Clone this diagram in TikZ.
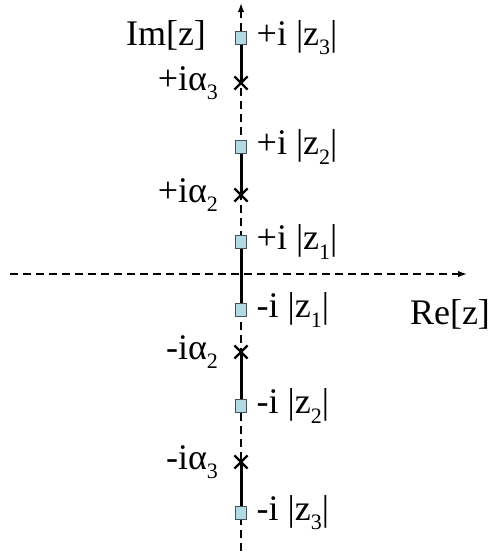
\documentclass[tikz,border=0pt]{standalone}
\usepackage{fontspec}
\setmainfont{Liberation Serif}
\usetikzlibrary{arrows.meta,positioning,shapes.misc}
\definecolor{PoleBlue}{RGB}{178,218,228}
\definecolor{PoleEdge}{RGB}{70,80,90}
\newcommand{\lowsub}[1]{\raisebox{-.55ex}{\fontsize{11}{11}\selectfont #1}}

\begin{document}
\begin{tikzpicture}[x=.5pt,y=-.5pt,>={Latex[length=4.5pt,width=3.2pt]},
  axisline/.style={dash pattern=on 4pt off 2.5pt,line width=.7pt},
  cutline/.style={line width=1.5pt},
  pole/.style={draw=PoleEdge,fill=PoleBlue,line width=.5pt,minimum width=5.8pt,minimum height=6.5pt,inner sep=0pt},
  crossmark/.style={cross out,draw,line width=1.1pt,minimum size=5.5pt,inner sep=0pt},
  lbl/.style={inner sep=0pt,font=\fontsize{18}{20}\selectfont}]
\useasboundingbox (0,0) rectangle (490,553);
% axes
\coordinate (xl) at (10,274);\coordinate (xr) at (467,274);
\coordinate (yb) at (241,551);\coordinate (yt) at (241,3);
\draw[axisline,->] (xl)--(xr);\draw[axisline,->] (yb)--(yt);
% branch points and zeros on the imaginary axis
\foreach \n/\y in {z3p/38,z2p/147,z1p/242,z1m/310,z2m/406,z3m/513}{\node[pole] (\n) at (241,\y){};}
\foreach \n/\y in {a3p/83,a2p/195,a2m/352,a3m/462}{\node[crossmark] (\n) at (241,\y){};}
% cuts
\draw[cutline] (z3p.south)--(a3p.center);\draw[cutline] (z2p.south)--(a2p.center);
\draw[cutline] (z1p.south)--(z1m.north);
\draw[cutline] (a2m.center)--(z2m.north);\draw[cutline] (a3m.center)--(z3m.north);
% labels
\node[lbl,right=4.5pt of z3p] (lz3p) {+i |z\lowsub{3}|};
\node[lbl,right=4.5pt of z2p] (lz2p) {+i |z\lowsub{2}|};
\node[lbl,right=4.5pt of z1p] (lz1p) {+i |z\lowsub{1}|};
\node[lbl,right=4.5pt of z1m] (lz1m) {-i |z\lowsub{1}|};
\node[lbl,right=4.5pt of z2m] (lz2m) {-i |z\lowsub{2}|};
\node[lbl,right=4.5pt of z3m] (lz3m) {-i |z\lowsub{3}|};
\node[lbl,left=8pt of a3p] (la3p) {+iα\lowsub{3}};
\node[lbl,left=8pt of a2p] (la2p) {+iα\lowsub{2}};
\node[lbl,left=8pt of a2m] (la2m) {-iα\lowsub{2}};
\node[lbl,left=8pt of a3m] (la3m) {-iα\lowsub{3}};
\node[lbl] (imz) at (166,35) {Im[z]};\node[lbl] (rez) at (450,314) {Re[z]};
\end{tikzpicture}
\end{document}
